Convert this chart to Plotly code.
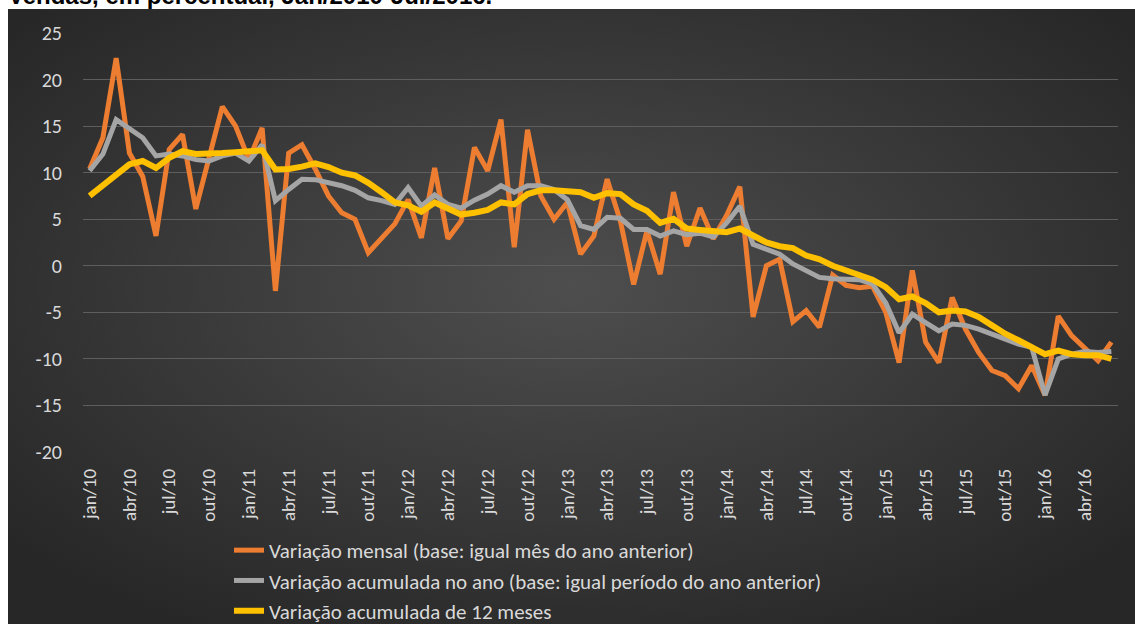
import base64
import plotly.graph_objects as go

MONTHS = ["jan", "fev", "mar", "abr", "mai", "jun", "jul", "ago", "set", "out", "nov", "dez"]
YEARS = ["10", "11", "12", "13", "14", "15", "16"]
N_POINTS = 78  # jan/10 .. jun/16

categories = [f"{m}/{y}" for y in YEARS for m in MONTHS][:N_POINTS]
tick_labels = [c for c in categories if c.split("/")[0] in ("jan", "abr", "jul", "out")]

y_tick_values = [25, 20, 15, 10, 5, 0, -5, -10, -15, -20]
y_tick_labels = ["25", "20", "15", "10", "5", "0", "-5", "-10", "-15", "-20"]

variacao_mensal = [
    10.4, 13.75, 22.3, 12.1, 9.6, 3.2, 12.5, 14.1, 6.1, 11.4, 17.1, 15.0,
    11.4, 14.8, -2.7, 12.1, 13.0, 10.4, 7.5, 5.7, 5.0, 1.4, 2.9, 4.5,
    7.1, 3.0, 10.5, 2.9, 4.8, 12.7, 10.2, 15.7, 2.0, 14.6, 7.5, 5.0,
    6.8, 1.25, 3.2, 9.3, 4.8, -2.0, 3.75, -0.9, 7.9, 2.1, 6.2, 2.9,
    5.4, 8.5, -5.5, 0.0, 0.7, -6.0, -4.8, -6.6, -1.0, -2.1, -2.35, -2.2,
    -5.0, -10.4, -0.5, -8.2, -10.4, -3.4, -6.8, -9.3, -11.25, -11.8, -13.2, -10.7,
    -13.9, -5.4, -7.5, -8.9, -10.2, -8.2,
]
variacao_acum_ano = [
    10.2, 12.0, 15.7, 14.8, 13.75, 11.8, 12.0, 11.8, 11.4, 11.25, 11.8, 12.1,
    11.25, 13.0, 7.0, 8.2, 9.3, 9.25, 8.9, 8.6, 8.1, 7.3, 7.0, 6.6,
    8.4, 6.4, 7.6, 6.6, 6.2, 7.05, 7.7, 8.6, 7.9, 8.6, 8.6, 8.2,
    7.1, 4.3, 3.9, 5.2, 5.1, 3.9, 3.9, 3.2, 3.75, 3.35, 3.5, 3.1,
    4.6, 6.4, 2.3, 1.8, 1.25, 0.2, -0.5, -1.25, -1.4, -1.4, -1.5, -1.95,
    -4.0, -7.2, -5.2, -6.1, -7.0, -6.25, -6.4, -6.8, -7.3, -7.9, -8.4, -8.75,
    -13.9, -10.0, -9.5, -9.2, -9.3, -9.2,
]
variacao_12m = [
    7.5, 8.6, 9.9, 10.9, 11.25, 10.5, 11.6, 12.3, 12.0, 12.0, 12.1, 12.2,
    12.3, 12.4, 10.35, 10.4, 10.65, 11.0, 10.6, 10.0, 9.7, 8.9, 7.9, 6.8,
    6.5, 5.8, 6.8, 6.1, 5.5, 5.7, 6.0, 6.8, 6.6, 7.7, 8.1, 8.1,
    8.0, 7.9, 7.3, 7.8, 7.7, 6.6, 5.9, 4.6, 5.05, 4.0, 3.85, 3.75,
    3.6, 4.0, 3.3, 2.5, 2.1, 1.9, 1.1, 0.7, 0.0, -0.5, -1.0, -1.5,
    -2.3, -3.6, -3.3, -4.0, -5.0, -4.8, -4.9, -5.5, -6.4, -7.3, -8.0, -8.75,
    -9.5, -9.1, -9.5, -9.6, -9.6, -10.0,
]

series_names = [
    "Variação mensal (base: igual mês do ano anterior)",
    "Variação acumulada no ano (base: igual período do ano anterior)",
    "Variação acumulada de 12 meses",
]
series_colors = ["#ED7D31", "#A5A5A5", "#FFC000"]
series_widths = [5, 5, 6]
series_values = [variacao_mensal, variacao_acum_ano, variacao_12m]

FONT = "Carlito, Lato, 'Open Sans', sans-serif"
TXT = "#d9d9d9"

fig = go.Figure()
for name, vals, col, w in zip(series_names, series_values, series_colors, series_widths):
    fig.add_trace(go.Scatter(
        x=categories, y=vals, mode="lines", name=name,
        line=dict(color=col, width=w, shape="linear"),
    ))

# radial gradient background (Excel-like dark style) as an SVG image
svg = (
    '<svg xmlns="http://www.w3.org/2000/svg" width="1127" height="615" viewBox="0 0 1127 615" preserveAspectRatio="none">'
    '<defs><radialGradient id="g" cx="50%" cy="45%" r="65%">'
    '<stop offset="0%" stop-color="#4e4e4e"/><stop offset="100%" stop-color="#272727"/>'
    '</radialGradient></defs><rect width="1127" height="615" fill="url(#g)"/></svg>'
)
src = "data:image/svg+xml;base64," + base64.b64encode(svg.encode()).decode()

L, R, T, B = 83, 1118, 33, 452
W, H = 1135, 624
pw, ph = R - L, B - T

def px(xp):
    return (xp - L) / pw

def py(yp):
    return (B - yp) / ph

fig.update_layout(
    width=W, height=H,
    margin=dict(l=L, r=W - R, t=T, b=H - B, pad=0, autoexpand=False),
    paper_bgcolor="white",
    plot_bgcolor="rgba(0,0,0,0)",
    font=dict(family=FONT, color=TXT),
    images=[dict(
        source=src, xref="paper", yref="paper",
        x=px(8), y=py(9), sizex=(W - 8) / pw, sizey=(H - 9) / ph,
        xanchor="left", yanchor="top", sizing="stretch", layer="below",
    )],
    showlegend=True,
    legend=dict(
        xref="container", yref="container",
        x=229 / W, y=1 - 530 / H, xanchor="left", yanchor="top",
        bgcolor="rgba(0,0,0,0)", font=dict(size=21, color=TXT, family=FONT),
        traceorder="normal", tracegroupgap=0,
    ),
    annotations=[dict(
        text="<b>Vendas, em percentual, Jan/2010-Jul/2016.</b>",
        xref="paper", yref="paper", x=px(6), y=py(11),
        xanchor="left", yanchor="bottom", showarrow=False,
        font=dict(family="Liberation Sans, Arial, sans-serif", size=24, color="black"),
    )],
    xaxis=dict(
        type="category", range=[-0.5, N_POINTS - 0.5],
        tickmode="array", tickvals=tick_labels, ticktext=tick_labels,
        tickangle=-90, tickfont=dict(size=19, color=TXT, family=FONT),
        showgrid=False, zeroline=False, showline=False, ticks="",
        ticklabelstandoff=12,
    ),
    yaxis=dict(
        range=[-20, 25],
        tickmode="array", tickvals=y_tick_values, ticktext=y_tick_labels,
        tickfont=dict(size=20, color=TXT, family=FONT),
        showgrid=True, gridcolor="#5e5e5e", gridwidth=1.2,
        zeroline=False, showline=False, ticks="",
        ticklabelstandoff=20,
    ),
)

fig.write_html(
    "out.html",
    config={"displayModeBar": False},
    post_script="document.body.style.margin='0';document.body.style.overflow='hidden';",
)
